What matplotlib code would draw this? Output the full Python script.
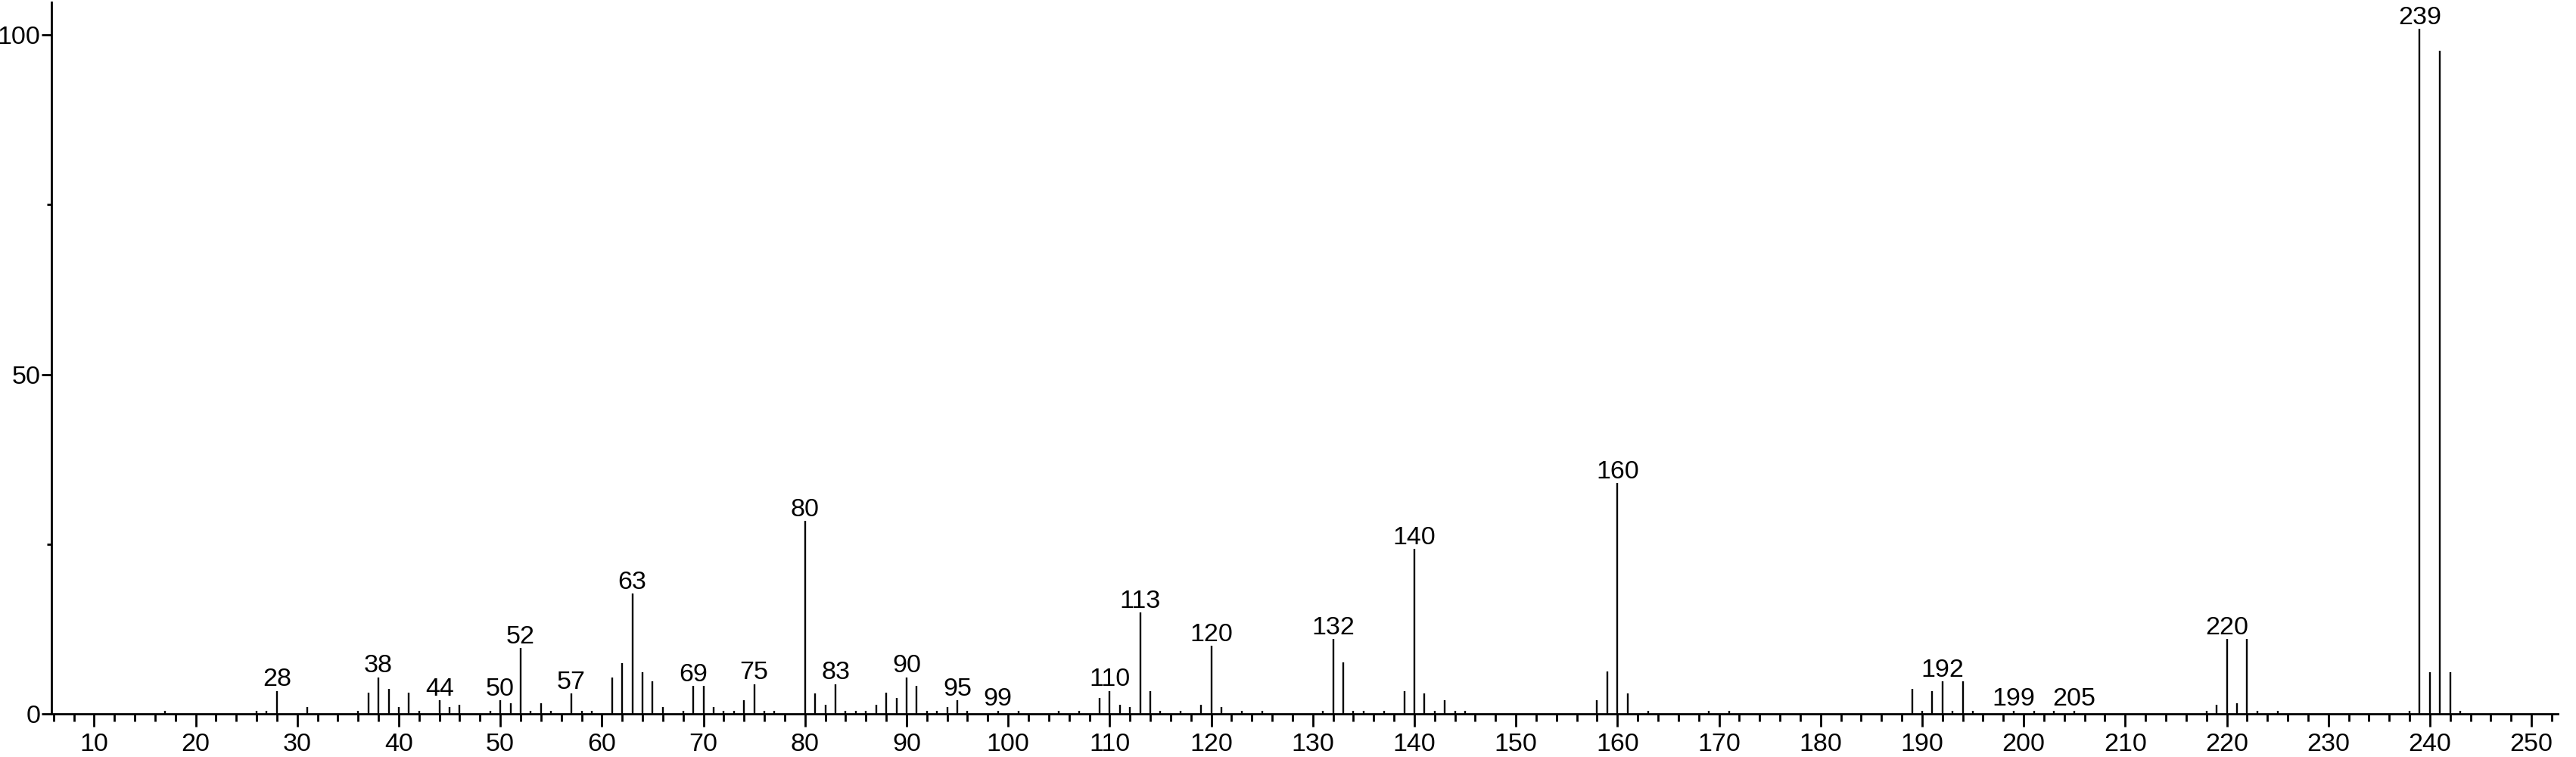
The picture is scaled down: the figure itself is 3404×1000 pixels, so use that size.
import matplotlib
matplotlib.use("Agg")
import matplotlib.pyplot as plt
from matplotlib.ticker import MultipleLocator

plt.rcParams['font.family'] = ['Liberation Sans', 'DejaVu Sans']

# m/z values and relative intensities
mz = [17, 26, 27, 28, 31, 36, 37, 38, 39, 40, 41, 42, 44, 45, 46,
      49, 50, 51, 52, 53, 54, 55, 57, 58, 59, 61, 62, 63, 64, 65, 66,
      68, 69, 70, 71, 72, 73, 74, 75, 76, 77, 80, 81, 82, 83, 84, 85, 86,
      87, 88, 89, 90, 91, 92, 93, 94, 95, 96, 99, 101, 105, 107,
      109, 110, 111, 112, 113, 114, 115, 117, 119, 120, 121, 123, 125,
      131, 132, 133, 134, 135, 137, 139, 140, 141, 142, 143, 144, 145,
      158, 159, 160, 161, 163, 169, 171,
      189, 190, 191, 192, 193, 194, 195, 199, 201, 203, 205,
      218, 219, 220, 221, 222, 223, 225,
      238, 239, 240, 241, 242, 243]
intensity = [0.5, 0.5, 0.5, 3.4, 1.0, 0.5, 3.1, 5.4, 3.7, 1.0, 3.1, 0.5, 2.0, 1.0, 1.3,
             0.5, 2.0, 1.6, 9.7, 0.5, 1.6, 0.5, 3.0, 0.5, 0.5, 5.4, 7.5, 17.7, 6.1, 4.8, 1.0,
             0.5, 4.1, 4.1, 1.0, 0.5, 0.5, 2.0, 4.4, 0.5, 0.5, 28.4, 3.0, 1.3, 4.4, 0.5, 0.5, 0.5,
             1.3, 3.1, 2.3, 5.4, 4.1, 0.5, 0.5, 1.0, 2.0, 0.5, 0.5, 0.5, 0.5, 0.5,
             2.3, 3.4, 1.3, 1.0, 14.9, 3.4, 0.5, 0.5, 1.3, 10.0, 1.0, 0.5, 0.5,
             0.5, 11.0, 7.6, 0.5, 0.5, 0.5, 3.4, 24.3, 3.0, 0.5, 2.0, 0.5, 0.5,
             2.0, 6.2, 34.0, 3.0, 0.5, 0.5, 0.5,
             3.7, 0.5, 3.4, 4.8, 0.5, 4.8, 0.5, 0.5, 0.5, 0.5, 0.5,
             0.5, 1.3, 11.0, 1.6, 11.0, 0.5, 0.5,
             0.5, 100.9, 6.1, 97.7, 6.1, 0.5]

labelled = [28, 38, 44, 50, 52, 57, 63, 69, 75, 80, 83, 90, 95, 99,
            110, 113, 120, 132, 140, 160, 192, 199, 205, 220, 239]

fig = plt.figure(figsize=(34.04, 10), dpi=100)
ax = fig.add_axes([68 / 3404, 0.057, (3380 - 68) / 3404, 0.94])

ax.vlines(mz, 0, intensity, colors='black', linewidth=1.7)

for m in labelled:
    h = intensity[mz.index(m)]
    ax.annotate(str(m), (m, h), xytext=(0, 4.5), textcoords='offset points',
                ha='center', va='baseline', fontsize=24.5, clip_on=False)

ax.set_xlim(5.8, 252.6)
ax.set_ylim(0, 104.8)

for s in ['top', 'right']:
    ax.spines[s].set_visible(False)
for s in ['left', 'bottom']:
    ax.spines[s].set_linewidth(2.0)

ax.xaxis.set_major_locator(MultipleLocator(10))
ax.xaxis.set_minor_locator(MultipleLocator(2))
ax.yaxis.set_major_locator(MultipleLocator(50))
ax.yaxis.set_minor_locator(MultipleLocator(25))
ax.set_xticks(list(range(10, 251, 10)))

ax.tick_params(axis='x', which='major', length=12, width=2.0, labelsize=24.5, pad=6)
ax.tick_params(axis='x', which='minor', length=7, width=2.0)
ax.tick_params(axis='y', which='major', length=9.5, width=2.0, labelsize=24.5, pad=1)
ax.tick_params(axis='y', which='minor', length=4.5, width=2.0)

fig.savefig('out.png', dpi=100, facecolor='white')
